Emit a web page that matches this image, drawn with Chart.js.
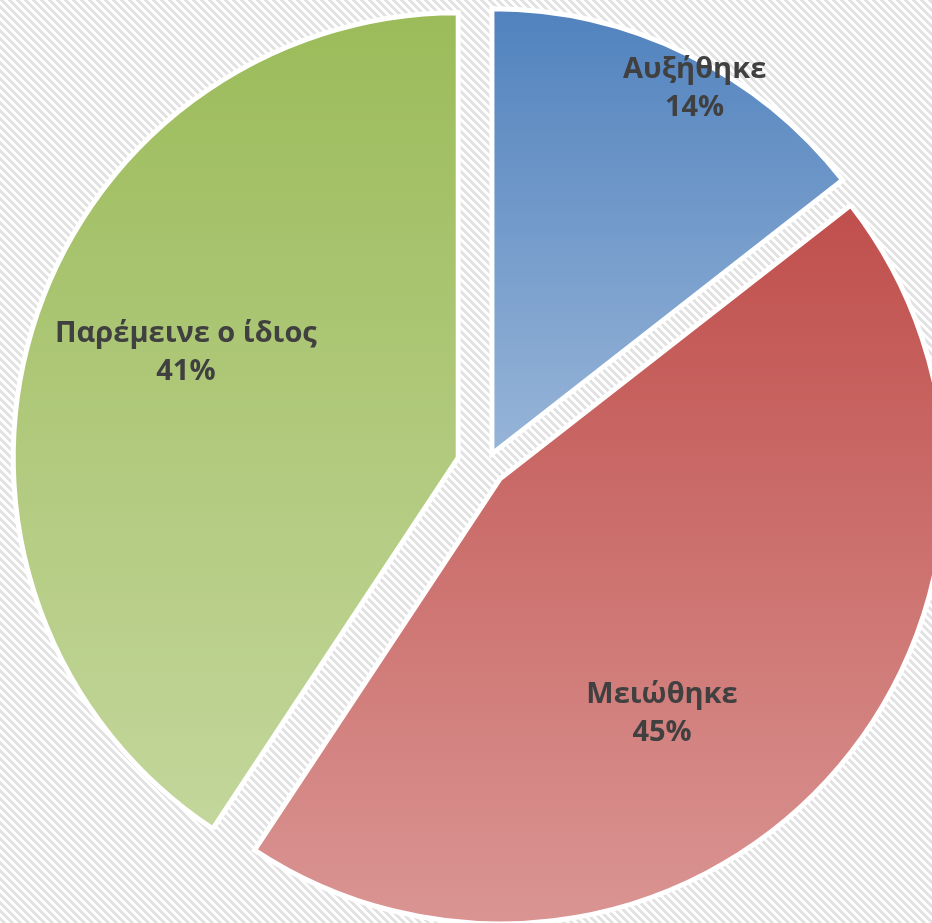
<!DOCTYPE html>
<html><head><meta charset="utf-8">
<script src="https://cdn.jsdelivr.net/npm/chart.js@4"></script>
<style>html,body{margin:0;padding:0;background:#fff;overflow:hidden} canvas{display:block}</style>
</head><body>
<canvas id="c" width="932" height="923"></canvas>
<script>
// ---- data ----
const categories = ['Αυξήθηκε', 'Μειώθηκε', 'Παρέμεινε ο ίδιος'];
const values = [14.45, 44.85, 40.7];

// ---- styles ----
const topColors = ['#4F81BD', '#C0504D', '#9BBB59'];
const bottomColors = ['#95B3D7', '#DA9694', '#C3D69B'];
const RADIUS = 445;
const EXPLODE = [13.5, 19, 29];   // px each slice is pulled out along its mid-angle
const BORDER = 5;
const LABEL_FONT = 'bold 29px "Open Sans", "Liberation Sans", sans-serif';
const LABEL_COLOR = '#404040';
const LINE_GAP = 38;
// label placement: angle shift from slice mid-angle (deg) and distance from pie centre (px)
const labelPlacement = [{da: 2.9, r: 431.5}, {da: 11.8, r: 303.5}, {da: 3.95, r: 320.8}];

function sliceGeom(chart, i) {
  const area = chart.chartArea;
  const data = chart.data.datasets[0].data;
  const total = data.reduce((a, b) => a + b, 0);
  let before = 0;
  for (let k = 0; k < i; k++) before += data[k];
  const a0 = -Math.PI / 2 + before / total * 2 * Math.PI;
  const a1 = a0 + data[i] / total * 2 * Math.PI;
  const cx = (area.left + area.right) / 2, cy = (area.top + area.bottom) / 2;
  const mid = (a0 + a1) / 2;
  const t = EXPLODE[i];
  return {a0, a1, cx, cy, ox: cx + Math.cos(mid) * t, oy: cy + Math.sin(mid) * t, mid};
}

function sliceFill(ctx) {
  const chart = ctx.chart, i = ctx.dataIndex;
  if (!chart.chartArea) return topColors[i];
  const g = sliceGeom(chart, i);
  const ys = [g.oy, g.oy + RADIUS * Math.sin(g.a0), g.oy + RADIUS * Math.sin(g.a1)];
  const inRange = (a) => {
    for (let k = -2; k <= 2; k++) {
      const v = a + k * 2 * Math.PI;
      if (v >= g.a0 && v <= g.a1) return true;
    }
    return false;
  };
  if (inRange(Math.PI / 2)) ys.push(g.oy + RADIUS);
  if (inRange(-Math.PI / 2)) ys.push(g.oy - RADIUS);
  const yMin = Math.min(...ys), yMax = Math.max(...ys);
  const grad = chart.ctx.createLinearGradient(0, yMin, 0, yMax);
  grad.addColorStop(0, topColors[i]);
  grad.addColorStop(1, bottomColors[i]);
  return grad;
}

const hatchPlugin = {
  id: 'hatch',
  beforeDraw(chart) {
    const tile = document.createElement('canvas');
    tile.width = 8; tile.height = 8;
    const t = tile.getContext('2d');
    t.fillStyle = '#ffffff'; t.fillRect(0, 0, 8, 8);
    t.fillStyle = '#e2e2e2';
    for (let y = 0; y < 8; y++) for (let x = 0; x < 8; x++) {
      if ((((x - y) % 8) + 8) % 8 < 4) t.fillRect(x, y, 1, 1);
    }
    const ctx = chart.ctx;
    ctx.save();
    ctx.fillStyle = ctx.createPattern(tile, 'repeat');
    ctx.fillRect(0, 0, chart.width, chart.height);
    ctx.restore();
  }
};

// pull each arc out along its bisector (exploded pie)
const explodePlugin = {
  id: 'explode',
  beforeDatasetsDraw(chart) {
    const meta = chart.getDatasetMeta(0);
    meta.data.forEach((arc, i) => {
      if (arc._exploded) return;
      const orig = arc.draw;
      arc.draw = function (ctx, area) {
        const mid = (this.startAngle + this.endAngle) / 2;
        const d = EXPLODE[i];
        ctx.save();
        ctx.translate(Math.cos(mid) * d, Math.sin(mid) * d);
        orig.call(this, ctx, area);
        ctx.restore();
      };
      arc._exploded = true;
    });
  }
};

const labelPlugin = {
  id: 'sliceLabels',
  afterDatasetsDraw(chart) {
    const ctx = chart.ctx;
    const data = chart.data.datasets[0].data;
    const total = data.reduce((a, b) => a + b, 0);
    const meta = chart.getDatasetMeta(0);
    ctx.save();
    ctx.font = LABEL_FONT;
    ctx.fillStyle = LABEL_COLOR;
    ctx.textAlign = 'center';
    ctx.textBaseline = 'middle';
    meta.data.forEach((arc, i) => {
      const g = sliceGeom(chart, i);
      const p = labelPlacement[i];
      const ang = g.mid + p.da * Math.PI / 180;
      const x = arc.x + Math.cos(ang) * p.r;
      const y = arc.y + Math.sin(ang) * p.r;
      const pct = Math.round(data[i] / total * 100) + '%';
      ctx.fillText(chart.data.labels[i], x, y - LINE_GAP / 2);
      ctx.fillText(pct, x, y + LINE_GAP / 2);
    });
    ctx.restore();
  }
};

new Chart(document.getElementById('c'), {
  type: 'pie',
  data: {
    labels: categories,
    datasets: [{
      data: values,
      backgroundColor: sliceFill,
      borderColor: '#ffffff',
      borderWidth: BORDER,
      borderJoinStyle: 'miter',
      clip: false
    }]
  },
  options: {
    responsive: false,
    animation: false,
    radius: RADIUS,
    layout: {padding: {left: 40, top: 9, right: 0, bottom: 0}},
    plugins: {legend: {display: false}, tooltip: {enabled: false}}
  },
  plugins: [hatchPlugin, explodePlugin, labelPlugin]
});
</script>
</body></html>
